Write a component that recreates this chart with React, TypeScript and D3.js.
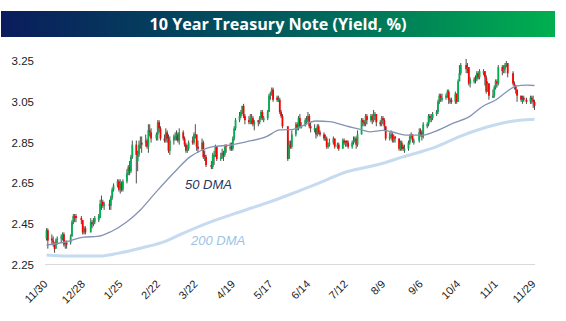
import React from "react";
import * as d3 from "d3";

// Daily candles: [date, open, high, low, close]
const ohlc: [string, number, number, number, number][] = [
  ["2017-11-30", 2.38, 2.43, 2.37, 2.42],
  ["2017-12-01", 2.42, 2.43, 2.33, 2.37],
  ["2017-12-04", 2.38, 2.40, 2.35, 2.37],
  ["2017-12-05", 2.37, 2.39, 2.34, 2.36],
  ["2017-12-06", 2.36, 2.36, 2.31, 2.33],
  ["2017-12-07", 2.33, 2.38, 2.33, 2.37],
  ["2017-12-08", 2.37, 2.39, 2.35, 2.38],
  ["2017-12-11", 2.38, 2.40, 2.36, 2.39],
  ["2017-12-12", 2.38, 2.41, 2.37, 2.40],
  ["2017-12-13", 2.40, 2.41, 2.34, 2.35],
  ["2017-12-14", 2.35, 2.37, 2.33, 2.35],
  ["2017-12-15", 2.36, 2.37, 2.33, 2.35],
  ["2017-12-18", 2.36, 2.40, 2.35, 2.39],
  ["2017-12-19", 2.39, 2.47, 2.39, 2.46],
  ["2017-12-20", 2.46, 2.50, 2.45, 2.49],
  ["2017-12-21", 2.49, 2.50, 2.46, 2.48],
  ["2017-12-22", 2.49, 2.50, 2.46, 2.48],
  ["2017-12-26", 2.48, 2.49, 2.45, 2.47],
  ["2017-12-27", 2.47, 2.47, 2.40, 2.41],
  ["2017-12-28", 2.41, 2.44, 2.40, 2.43],
  ["2017-12-29", 2.43, 2.44, 2.40, 2.41],
  ["2018-01-02", 2.41, 2.48, 2.41, 2.46],
  ["2018-01-03", 2.46, 2.47, 2.43, 2.45],
  ["2018-01-04", 2.45, 2.48, 2.44, 2.46],
  ["2018-01-05", 2.46, 2.49, 2.45, 2.48],
  ["2018-01-08", 2.47, 2.50, 2.46, 2.49],
  ["2018-01-09", 2.48, 2.57, 2.48, 2.55],
  ["2018-01-10", 2.55, 2.59, 2.52, 2.56],
  ["2018-01-11", 2.56, 2.57, 2.53, 2.54],
  ["2018-01-12", 2.54, 2.56, 2.52, 2.55],
  ["2018-01-16", 2.55, 2.57, 2.52, 2.54],
  ["2018-01-17", 2.54, 2.59, 2.52, 2.58],
  ["2018-01-18", 2.58, 2.63, 2.57, 2.62],
  ["2018-01-19", 2.62, 2.65, 2.61, 2.64],
  ["2018-01-22", 2.64, 2.67, 2.63, 2.66],
  ["2018-01-23", 2.66, 2.67, 2.61, 2.62],
  ["2018-01-24", 2.62, 2.67, 2.60, 2.65],
  ["2018-01-25", 2.65, 2.66, 2.61, 2.62],
  ["2018-01-26", 2.62, 2.67, 2.61, 2.66],
  ["2018-01-29", 2.66, 2.72, 2.65, 2.70],
  ["2018-01-30", 2.70, 2.74, 2.69, 2.73],
  ["2018-01-31", 2.73, 2.76, 2.69, 2.71],
  ["2018-02-01", 2.71, 2.79, 2.70, 2.78],
  ["2018-02-02", 2.78, 2.86, 2.77, 2.84],
  ["2018-02-05", 2.84, 2.86, 2.65, 2.79],
  ["2018-02-06", 2.76, 2.81, 2.71, 2.79],
  ["2018-02-07", 2.79, 2.86, 2.78, 2.84],
  ["2018-02-08", 2.84, 2.88, 2.82, 2.85],
  ["2018-02-09", 2.85, 2.88, 2.80, 2.84],
  ["2018-02-12", 2.85, 2.89, 2.83, 2.86],
  ["2018-02-13", 2.86, 2.87, 2.82, 2.83],
  ["2018-02-14", 2.83, 2.94, 2.80, 2.91],
  ["2018-02-15", 2.91, 2.94, 2.88, 2.90],
  ["2018-02-16", 2.90, 2.92, 2.85, 2.87],
  ["2018-02-20", 2.87, 2.90, 2.86, 2.89],
  ["2018-02-21", 2.89, 2.96, 2.86, 2.95],
  ["2018-02-22", 2.95, 2.96, 2.90, 2.92],
  ["2018-02-23", 2.92, 2.93, 2.86, 2.87],
  ["2018-02-26", 2.87, 2.89, 2.85, 2.86],
  ["2018-02-27", 2.86, 2.92, 2.85, 2.90],
  ["2018-02-28", 2.90, 2.91, 2.85, 2.87],
  ["2018-03-01", 2.87, 2.89, 2.80, 2.81],
  ["2018-03-02", 2.81, 2.88, 2.79, 2.86],
  ["2018-03-05", 2.86, 2.89, 2.84, 2.88],
  ["2018-03-06", 2.87, 2.90, 2.86, 2.88],
  ["2018-03-07", 2.88, 2.91, 2.86, 2.89],
  ["2018-03-08", 2.89, 2.90, 2.85, 2.86],
  ["2018-03-09", 2.86, 2.92, 2.84, 2.90],
  ["2018-03-12", 2.90, 2.91, 2.86, 2.87],
  ["2018-03-13", 2.87, 2.88, 2.83, 2.84],
  ["2018-03-14", 2.84, 2.85, 2.80, 2.81],
  ["2018-03-15", 2.81, 2.84, 2.80, 2.82],
  ["2018-03-16", 2.82, 2.86, 2.81, 2.85],
  ["2018-03-19", 2.86, 2.88, 2.84, 2.85],
  ["2018-03-20", 2.85, 2.90, 2.84, 2.89],
  ["2018-03-21", 2.88, 2.94, 2.87, 2.89],
  ["2018-03-22", 2.89, 2.89, 2.81, 2.83],
  ["2018-03-23", 2.83, 2.86, 2.80, 2.82],
  ["2018-03-26", 2.82, 2.87, 2.81, 2.85],
  ["2018-03-27", 2.85, 2.86, 2.77, 2.78],
  ["2018-03-28", 2.79, 2.81, 2.76, 2.78],
  ["2018-03-29", 2.78, 2.79, 2.73, 2.74],
  ["2018-04-02", 2.74, 2.76, 2.72, 2.73],
  ["2018-04-03", 2.73, 2.80, 2.72, 2.79],
  ["2018-04-04", 2.78, 2.81, 2.74, 2.79],
  ["2018-04-05", 2.79, 2.84, 2.78, 2.83],
  ["2018-04-06", 2.83, 2.83, 2.76, 2.77],
  ["2018-04-09", 2.77, 2.80, 2.76, 2.78],
  ["2018-04-10", 2.78, 2.82, 2.77, 2.80],
  ["2018-04-11", 2.80, 2.81, 2.76, 2.79],
  ["2018-04-12", 2.79, 2.84, 2.78, 2.83],
  ["2018-04-13", 2.84, 2.84, 2.80, 2.83],
  ["2018-04-16", 2.82, 2.85, 2.81, 2.83],
  ["2018-04-17", 2.83, 2.85, 2.81, 2.82],
  ["2018-04-18", 2.82, 2.88, 2.81, 2.87],
  ["2018-04-19", 2.87, 2.93, 2.86, 2.92],
  ["2018-04-20", 2.92, 2.97, 2.91, 2.96],
  ["2018-04-23", 2.96, 3.00, 2.95, 2.98],
  ["2018-04-24", 2.98, 3.01, 2.97, 3.00],
  ["2018-04-25", 3.00, 3.03, 2.99, 3.03],
  ["2018-04-26", 3.03, 3.04, 2.97, 2.98],
  ["2018-04-27", 2.98, 2.99, 2.94, 2.96],
  ["2018-04-30", 2.96, 2.98, 2.94, 2.95],
  ["2018-05-01", 2.95, 2.99, 2.94, 2.97],
  ["2018-05-02", 2.96, 2.99, 2.94, 2.97],
  ["2018-05-03", 2.97, 2.98, 2.93, 2.94],
  ["2018-05-04", 2.94, 2.96, 2.91, 2.95],
  ["2018-05-07", 2.96, 2.96, 2.93, 2.95],
  ["2018-05-08", 2.95, 2.98, 2.94, 2.97],
  ["2018-05-09", 2.97, 3.01, 2.96, 3.00],
  ["2018-05-10", 3.00, 3.01, 2.96, 2.97],
  ["2018-05-11", 2.96, 2.98, 2.95, 2.97],
  ["2018-05-14", 2.97, 3.01, 2.96, 3.00],
  ["2018-05-15", 3.00, 3.09, 3.00, 3.08],
  ["2018-05-16", 3.08, 3.10, 3.06, 3.09],
  ["2018-05-17", 3.09, 3.12, 3.08, 3.11],
  ["2018-05-18", 3.11, 3.12, 3.05, 3.06],
  ["2018-05-21", 3.07, 3.08, 3.05, 3.06],
  ["2018-05-22", 3.05, 3.08, 3.05, 3.06],
  ["2018-05-23", 3.06, 3.07, 2.99, 3.00],
  ["2018-05-24", 3.00, 3.01, 2.97, 2.98],
  ["2018-05-25", 2.98, 2.99, 2.92, 2.93],
  ["2018-05-29", 2.93, 2.93, 2.76, 2.77],
  ["2018-05-30", 2.77, 2.86, 2.77, 2.84],
  ["2018-05-31", 2.84, 2.86, 2.82, 2.83],
  ["2018-06-01", 2.83, 2.91, 2.82, 2.89],
  ["2018-06-04", 2.89, 2.95, 2.88, 2.94],
  ["2018-06-05", 2.94, 2.95, 2.91, 2.92],
  ["2018-06-06", 2.92, 2.98, 2.91, 2.97],
  ["2018-06-07", 2.97, 2.99, 2.92, 2.93],
  ["2018-06-08", 2.92, 2.95, 2.92, 2.93],
  ["2018-06-11", 2.93, 2.97, 2.93, 2.96],
  ["2018-06-12", 2.95, 2.98, 2.94, 2.96],
  ["2018-06-13", 2.96, 3.00, 2.95, 2.98],
  ["2018-06-14", 2.98, 2.99, 2.92, 2.93],
  ["2018-06-15", 2.93, 2.95, 2.90, 2.92],
  ["2018-06-18", 2.91, 2.94, 2.90, 2.92],
  ["2018-06-19", 2.92, 2.92, 2.87, 2.89],
  ["2018-06-20", 2.89, 2.94, 2.88, 2.93],
  ["2018-06-21", 2.93, 2.94, 2.89, 2.90],
  ["2018-06-22", 2.90, 2.91, 2.88, 2.89],
  ["2018-06-25", 2.89, 2.90, 2.86, 2.87],
  ["2018-06-26", 2.86, 2.89, 2.86, 2.87],
  ["2018-06-27", 2.87, 2.88, 2.82, 2.83],
  ["2018-06-28", 2.83, 2.85, 2.82, 2.84],
  ["2018-06-29", 2.84, 2.87, 2.83, 2.85],
  ["2018-07-02", 2.85, 2.88, 2.84, 2.87],
  ["2018-07-03", 2.87, 2.87, 2.82, 2.83],
  ["2018-07-05", 2.83, 2.85, 2.82, 2.84],
  ["2018-07-06", 2.84, 2.85, 2.81, 2.82],
  ["2018-07-09", 2.82, 2.87, 2.82, 2.86],
  ["2018-07-10", 2.86, 2.87, 2.84, 2.85],
  ["2018-07-11", 2.84, 2.86, 2.83, 2.85],
  ["2018-07-12", 2.86, 2.86, 2.83, 2.85],
  ["2018-07-13", 2.85, 2.86, 2.82, 2.83],
  ["2018-07-16", 2.83, 2.86, 2.82, 2.85],
  ["2018-07-17", 2.85, 2.88, 2.84, 2.86],
  ["2018-07-18", 2.86, 2.88, 2.85, 2.87],
  ["2018-07-19", 2.87, 2.88, 2.82, 2.84],
  ["2018-07-20", 2.84, 2.91, 2.83, 2.89],
  ["2018-07-23", 2.89, 2.97, 2.89, 2.96],
  ["2018-07-24", 2.96, 2.97, 2.93, 2.95],
  ["2018-07-25", 2.95, 2.96, 2.93, 2.94],
  ["2018-07-26", 2.94, 2.99, 2.93, 2.98],
  ["2018-07-27", 2.98, 2.99, 2.94, 2.96],
  ["2018-07-30", 2.96, 2.99, 2.95, 2.98],
  ["2018-07-31", 2.98, 2.99, 2.94, 2.96],
  ["2018-08-01", 2.96, 3.01, 2.95, 2.98],
  ["2018-08-02", 2.98, 3.00, 2.96, 2.99],
  ["2018-08-03", 2.99, 2.99, 2.93, 2.95],
  ["2018-08-06", 2.95, 2.96, 2.93, 2.94],
  ["2018-08-07", 2.94, 2.98, 2.93, 2.97],
  ["2018-08-08", 2.97, 2.98, 2.94, 2.96],
  ["2018-08-09", 2.96, 2.97, 2.91, 2.93],
  ["2018-08-10", 2.93, 2.93, 2.86, 2.87],
  ["2018-08-13", 2.87, 2.90, 2.86, 2.88],
  ["2018-08-14", 2.88, 2.91, 2.87, 2.89],
  ["2018-08-15", 2.89, 2.90, 2.85, 2.86],
  ["2018-08-16", 2.86, 2.89, 2.85, 2.87],
  ["2018-08-17", 2.88, 2.88, 2.85, 2.87],
  ["2018-08-20", 2.87, 2.87, 2.81, 2.82],
  ["2018-08-21", 2.82, 2.86, 2.81, 2.85],
  ["2018-08-22", 2.85, 2.86, 2.81, 2.82],
  ["2018-08-23", 2.83, 2.84, 2.81, 2.82],
  ["2018-08-24", 2.81, 2.84, 2.80, 2.82],
  ["2018-08-27", 2.82, 2.86, 2.81, 2.85],
  ["2018-08-28", 2.85, 2.89, 2.84, 2.88],
  ["2018-08-29", 2.88, 2.90, 2.87, 2.89],
  ["2018-08-30", 2.89, 2.89, 2.85, 2.86],
  ["2018-08-31", 2.85, 2.87, 2.84, 2.86],
  ["2018-09-04", 2.86, 2.92, 2.85, 2.90],
  ["2018-09-05", 2.91, 2.92, 2.88, 2.90],
  ["2018-09-06", 2.90, 2.91, 2.86, 2.88],
  ["2018-09-07", 2.88, 2.95, 2.87, 2.94],
  ["2018-09-10", 2.93, 2.95, 2.92, 2.94],
  ["2018-09-11", 2.94, 2.99, 2.93, 2.98],
  ["2018-09-12", 2.98, 2.99, 2.95, 2.97],
  ["2018-09-13", 2.96, 2.99, 2.95, 2.97],
  ["2018-09-14", 2.97, 3.00, 2.96, 2.99],
  ["2018-09-17", 2.99, 3.01, 2.98, 3.00],
  ["2018-09-18", 3.00, 3.06, 2.99, 3.05],
  ["2018-09-19", 3.05, 3.09, 3.04, 3.08],
  ["2018-09-20", 3.08, 3.09, 3.05, 3.07],
  ["2018-09-21", 3.06, 3.09, 3.05, 3.07],
  ["2018-09-24", 3.07, 3.09, 3.06, 3.08],
  ["2018-09-25", 3.08, 3.11, 3.07, 3.10],
  ["2018-09-26", 3.10, 3.11, 3.04, 3.06],
  ["2018-09-27", 3.05, 3.07, 3.04, 3.06],
  ["2018-09-28", 3.06, 3.07, 3.04, 3.05],
  ["2018-10-01", 3.05, 3.10, 3.04, 3.09],
  ["2018-10-02", 3.09, 3.09, 3.04, 3.05],
  ["2018-10-03", 3.05, 3.16, 3.05, 3.15],
  ["2018-10-04", 3.15, 3.23, 3.15, 3.19],
  ["2018-10-05", 3.19, 3.24, 3.18, 3.23],
  ["2018-10-09", 3.23, 3.26, 3.19, 3.21],
  ["2018-10-10", 3.21, 3.24, 3.19, 3.22],
  ["2018-10-11", 3.22, 3.22, 3.13, 3.14],
  ["2018-10-12", 3.14, 3.17, 3.12, 3.16],
  ["2018-10-15", 3.15, 3.17, 3.14, 3.16],
  ["2018-10-16", 3.17, 3.18, 3.14, 3.16],
  ["2018-10-17", 3.16, 3.20, 3.15, 3.19],
  ["2018-10-18", 3.19, 3.20, 3.16, 3.17],
  ["2018-10-19", 3.17, 3.21, 3.16, 3.20],
  ["2018-10-22", 3.19, 3.21, 3.18, 3.20],
  ["2018-10-23", 3.20, 3.20, 3.13, 3.17],
  ["2018-10-24", 3.17, 3.18, 3.09, 3.10],
  ["2018-10-25", 3.10, 3.15, 3.10, 3.14],
  ["2018-10-26", 3.14, 3.14, 3.06, 3.08],
  ["2018-10-29", 3.07, 3.11, 3.07, 3.08],
  ["2018-10-30", 3.08, 3.13, 3.07, 3.12],
  ["2018-10-31", 3.12, 3.16, 3.11, 3.15],
  ["2018-11-01", 3.15, 3.16, 3.12, 3.14],
  ["2018-11-02", 3.14, 3.23, 3.13, 3.22],
  ["2018-11-05", 3.22, 3.23, 3.18, 3.20],
  ["2018-11-06", 3.20, 3.23, 3.19, 3.21],
  ["2018-11-07", 3.21, 3.24, 3.19, 3.23],
  ["2018-11-08", 3.23, 3.25, 3.22, 3.24],
  ["2018-11-09", 3.24, 3.24, 3.17, 3.19],
  ["2018-11-13", 3.19, 3.20, 3.13, 3.14],
  ["2018-11-14", 3.14, 3.15, 3.11, 3.13],
  ["2018-11-15", 3.13, 3.13, 3.09, 3.11],
  ["2018-11-16", 3.11, 3.11, 3.05, 3.08],
  ["2018-11-19", 3.08, 3.08, 3.05, 3.06],
  ["2018-11-20", 3.05, 3.08, 3.04, 3.06],
  ["2018-11-21", 3.07, 3.08, 3.05, 3.06],
  ["2018-11-23", 3.06, 3.07, 3.04, 3.05],
  ["2018-11-26", 3.05, 3.08, 3.04, 3.07],
  ["2018-11-27", 3.07, 3.08, 3.04, 3.06],
  ["2018-11-28", 3.06, 3.08, 3.02, 3.05],
  ["2018-11-29", 3.05, 3.06, 3.01, 3.03],
];

// 50-day moving average
const dma50: [string, number][] = [
  ["2017-11-30", 2.348], ["2017-12-15", 2.364], ["2017-12-28", 2.387],
  ["2018-01-07", 2.39], ["2018-01-17", 2.413], ["2018-01-29", 2.462],
  ["2018-02-08", 2.52], ["2018-02-20", 2.61], ["2018-03-07", 2.716],
  ["2018-03-17", 2.78], ["2018-03-25", 2.81], ["2018-04-03", 2.83],
  ["2018-04-16", 2.838], ["2018-04-28", 2.854], ["2018-05-13", 2.879],
  ["2018-05-23", 2.912], ["2018-06-02", 2.915], ["2018-06-19", 2.956],
  ["2018-06-29", 2.953], ["2018-07-12", 2.931], ["2018-07-22", 2.915],
  ["2018-07-29", 2.903], ["2018-08-08", 2.91], ["2018-08-15", 2.902],
  ["2018-08-25", 2.887], ["2018-09-07", 2.887], ["2018-09-17", 2.908],
  ["2018-09-29", 2.944], ["2018-10-12", 2.98], ["2018-10-21", 3.026],
  ["2018-10-31", 3.059], ["2018-11-10", 3.108], ["2018-11-15", 3.127],
  ["2018-11-23", 3.132], ["2018-11-29", 3.13],
];

// 200-day moving average
const dma200: [string, number][] = [
  ["2017-11-30", 2.299], ["2017-12-15", 2.294], ["2018-01-09", 2.294],
  ["2018-01-22", 2.307], ["2018-02-08", 2.332], ["2018-02-28", 2.37],
  ["2018-03-10", 2.40], ["2018-04-03", 2.465], ["2018-04-23", 2.51],
  ["2018-05-18", 2.565], ["2018-06-07", 2.615], ["2018-06-17", 2.64],
  ["2018-07-12", 2.707], ["2018-08-06", 2.745], ["2018-08-23", 2.78],
  ["2018-09-17", 2.83], ["2018-10-04", 2.879], ["2018-10-24", 2.925],
  ["2018-11-10", 2.952], ["2018-11-29", 2.964],
];

const tickDates = [
  "2017-11-30", "2017-12-28", "2018-01-25", "2018-02-22", "2018-03-22",
  "2018-04-19", "2018-05-17", "2018-06-14", "2018-07-12", "2018-08-09",
  "2018-09-06", "2018-10-04", "2018-11-01", "2018-11-29",
];
const tickLabels = [
  "11/30", "12/28", "1/25", "2/22", "3/22", "4/19", "5/17", "6/14",
  "7/12", "8/9", "9/6", "10/4", "11/1", "11/29",
];
const yTicks = [2.25, 2.45, 2.65, 2.85, 3.05, 3.25];

const W = 566;
const H = 321;
const parse = d3.timeParse("%Y-%m-%d");

export default function App() {
  const x = d3
    .scaleTime()
    .domain([parse("2017-11-30")!, parse("2018-11-29")!])
    .range([46.5, 534.5]);
  const y = d3.scaleLinear().domain([2.25, 3.25]).range([265, 61]);

  const line = d3
    .line<[string, number]>()
    .x((d) => x(parse(d[0])!))
    .y((d) => y(d[1]))
    .curve(d3.curveMonotoneX);

  const bodyW = 1.8;
  const font = "'Liberation Sans', Arial, sans-serif";

  return (
    <svg
      width={W}
      height={H}
      style={{ position: "absolute", left: 0, top: 0, background: "#fff" }}
    >
      <defs>
        <linearGradient id="titleGrad" x1="0" x2="1" y1="0" y2="0">
          <stop offset="0" stopColor="#0A1C5C" />
          <stop offset="0.5" stopColor="#005A5E" />
          <stop offset="1" stopColor="#00B050" />
        </linearGradient>
      </defs>
      <rect x={1} y={11} width={554} height={26} fill="url(#titleGrad)" />
      <text
        x={278}
        y={30}
        textAnchor="middle"
        fill="#fff"
        fontFamily="'Open Sans', sans-serif"
        fontWeight="bold"
        fontSize={16}
        textLength={257}
        lengthAdjust="spacingAndGlyphs"
      >
        10 Year Treasury Note (Yield, %)
      </text>

      {/* y labels */}
      {yTicks.map((t) => (
        <text
          key={t}
          x={34}
          y={y(t)}
          dy="0.35em"
          textAnchor="end"
          fontFamily={font}
          fontSize={11.5}
          fill="#222"
        >
          {t.toFixed(2)}
        </text>
      ))}

      {/* x axis line */}
      <line x1={45} x2={535} y1={264.5} y2={264.5} stroke="#D9D9D9" strokeWidth={1.2} />

      {/* x labels */}
      {tickDates.map((d, i) => {
        const px = x(parse(d)!);
        return (
          <text
            key={d}
            transform={`translate(${px - 1},${282}) rotate(-45)`}
            dy="0.35em"
            textAnchor="end"
            fontFamily={font}
            fontSize={11}
            fill="#222"
          >
            {tickLabels[i]}
          </text>
        );
      })}

      {/* 200 DMA */}
      <path d={line(dma200) || ""} fill="none" stroke="#C6DBF0" strokeWidth={3} />

      {/* candles */}
      {ohlc.map(([d, o, h, l, c]) => {
        const px = x(parse(d)!);
        const up = c >= o;
        const top = y(Math.max(o, c));
        const bot = y(Math.min(o, c));
        return (
          <g key={d}>
            <line x1={px} x2={px} y1={y(h)} y2={y(l)} stroke="#3A3A3A" strokeWidth={0.9} />
            <rect
              x={px - bodyW / 2}
              y={top}
              width={bodyW}
              height={Math.max(0.8, bot - top)}
              fill={up ? "#00B050" : "#FF0000"}
            />
          </g>
        );
      })}

      {/* 50 DMA */}
      <path d={line(dma50) || ""} fill="none" stroke="#8493B4" strokeWidth={1.3} />

      <text x={185} y={189} fontFamily={font} fontStyle="italic" fontSize={13} fill="#1F3864">
        50 DMA
      </text>
      <text x={191} y={245} fontFamily={font} fontStyle="italic" fontSize={13} fill="#9DC3E6">
        200 DMA
      </text>
    </svg>
  );
}
